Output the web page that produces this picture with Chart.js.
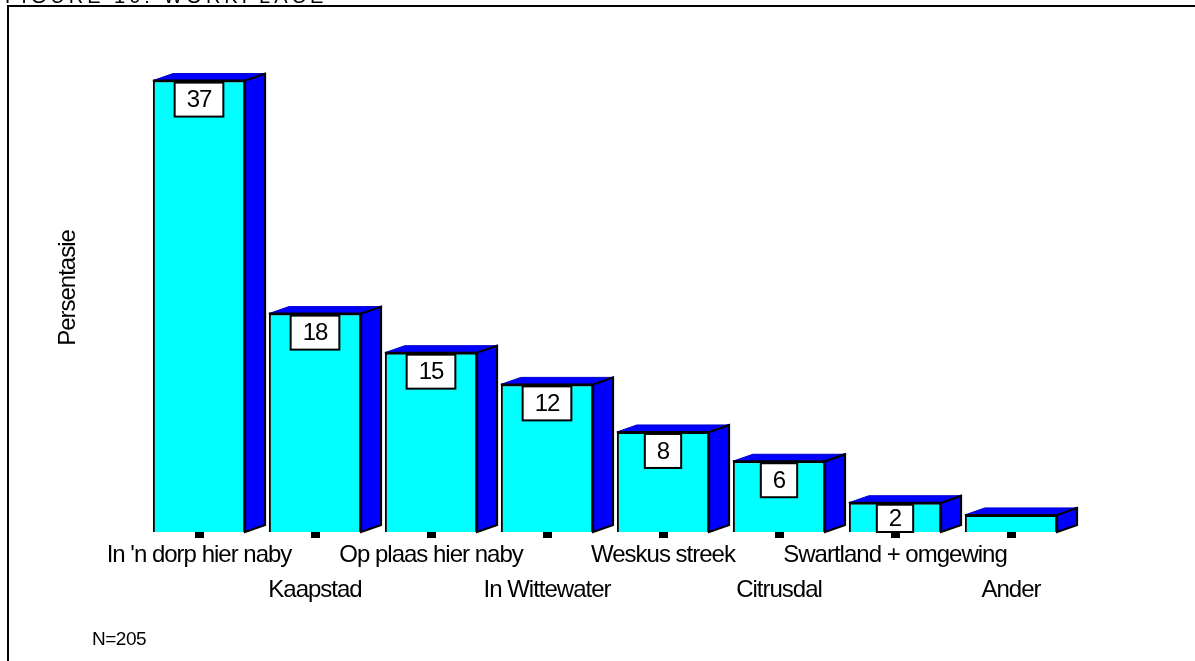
<!DOCTYPE html>
<html>
<head>
<meta charset="utf-8">
<script src="https://cdn.jsdelivr.net/npm/chart.js@4"></script>
<style>
  body { margin: 0; background: #fff; font-family: "Liberation Sans", Arial, sans-serif; }
  #wrap { position: relative; width: 1195px; height: 661px; overflow: hidden; }
  #frame { position: absolute; left: 7px; top: 5px; right: -10px; bottom: -10px; border-top: 2px solid #000; border-left: 2px solid #000; }
  #title { position: absolute; left: 5px; top: -14px; font-size: 20px; line-height: 20px; letter-spacing: 4px; color: #000; white-space: nowrap; z-index: 2; }
  #note { position: absolute; left: 92px; top: 629px; font-size: 19px; line-height: 19px; letter-spacing: -0.5px; color: #000; }
  canvas { position: absolute; left: 0; top: 0; }
</style>
</head>
<body>
<div id="wrap">
  <canvas id="chart" width="1195" height="661"></canvas>
  <div id="frame"></div>
  <div id="title">FIGURE 10: WORKPLACE</div>
  <div id="note">N=205</div>
</div>
<script>
const categories = ["In 'n dorp hier naby", "Kaapstad", "Op plaas hier naby", "In Wittewater",
                    "Weskus streek", "Citrusdal", "Swartland + omgewing", "Ander"];
const percentages = [37, 17.9, 14.7, 12.1, 8.2, 5.8, 2.4, 1.4];
const valueLabels = ["37", "18", "15", "12", "8", "6", "2", ""];

const FONT = "'Liberation Sans', Arial, sans-serif";
const DX = 20, DY = 7;

// the old chart set its text tight, so squeeze letters a little
const tightText = {
  id: "tightText",
  beforeDraw(chart) { chart.ctx.letterSpacing = "-1px"; }
};

// side + top faces and the little value boxes
const depthPlugin = {
  id: "depth",
  afterDatasetsDraw(chart) {
    const ctx = chart.ctx;
    const meta = chart.getDatasetMeta(0);
    ctx.save();
    meta.data.forEach((bar, i) => {
      const { x, y, base, width } = bar.getProps(["x", "y", "base", "width"], true);
      const x0 = x - width / 2, x1 = x + width / 2;

      ctx.lineJoin = "miter";
      ctx.beginPath();
      ctx.moveTo(x1, base);
      ctx.lineTo(x1 + DX, base - DY);
      ctx.lineTo(x1 + DX, y - DY);
      ctx.lineTo(x1, y);
      ctx.closePath();
      ctx.fillStyle = "#0000ff";
      ctx.fill();
      ctx.lineWidth = 2;
      ctx.strokeStyle = "#000";
      ctx.stroke();

      ctx.beginPath();
      ctx.moveTo(x0, y);
      ctx.lineTo(x0 + DX, y - DY);
      ctx.lineTo(x1 + DX, y - DY);
      ctx.lineTo(x1, y);
      ctx.closePath();
      ctx.fillStyle = "#0000ff";
      ctx.fill();
      ctx.lineWidth = 1;
      ctx.strokeStyle = "#0000cc";
      ctx.stroke();

      ctx.beginPath();
      ctx.moveTo(x0, y);
      ctx.lineTo(x1, y);
      ctx.lineTo(x1 + DX, y - DY);
      ctx.lineWidth = 2;
      ctx.strokeStyle = "#000";
      ctx.stroke();

      const txt = valueLabels[i];
      if (!txt) return;
      ctx.font = "24px " + FONT;
      const w = ctx.measureText(txt).width + 24;
      const top = y + 2;
      const h = Math.min(34, base - top);
      ctx.fillStyle = "#fff";
      ctx.fillRect(x - w / 2, top, w, h);
      ctx.lineWidth = 2;
      ctx.strokeStyle = "#000";
      ctx.strokeRect(x - w / 2, top, w, h);
      ctx.fillStyle = "#000";
      ctx.textAlign = "center";
      ctx.textBaseline = "middle";
      ctx.fillText(txt, x, top + h / 2 + 1);
    });
    ctx.restore();
  }
};

new Chart(document.getElementById("chart").getContext("2d"), {
  type: "bar",
  data: {
    labels: categories,
    datasets: [{
      data: percentages,
      backgroundColor: "#00ffff",
      borderColor: "#000",
      borderWidth: { left: 2, right: 2, top: 2, bottom: 0 },
      borderSkipped: false,
      categoryPercentage: 1,
      barPercentage: 0.795
    }]
  },
  options: {
    responsive: false,
    animation: false,
    layout: { padding: { top: 44, left: 50, right: 126, bottom: 0 } },
    plugins: { legend: { display: false }, tooltip: { enabled: false } },
    scales: {
      x: {
        grid: { display: true, drawOnChartArea: false, offset: false, tickLength: 6, tickWidth: 9, tickColor: "#000" },
        border: { display: false },
        ticks: {
          autoSkip: false, maxRotation: 0, minRotation: 0, padding: 0,
          color: "#000",
          font: { family: FONT, size: 24, lineHeight: 35 / 24 },
          callback: (v, i) => (i % 2 === 0 ? [categories[i]] : ["", categories[i]])
        },
        afterFit: s => { s.height = 129; }
      },
      y: {
        min: 0, max: 40,
        ticks: { display: false },
        grid: { display: false },
        border: { display: false },
        title: { display: true, text: "Persentasie", color: "#000", font: { family: FONT, size: 24 } },
        afterFit: s => { s.width = 91; }
      }
    }
  },
  plugins: [tightText, depthPlugin]
});
</script>
</body>
</html>
